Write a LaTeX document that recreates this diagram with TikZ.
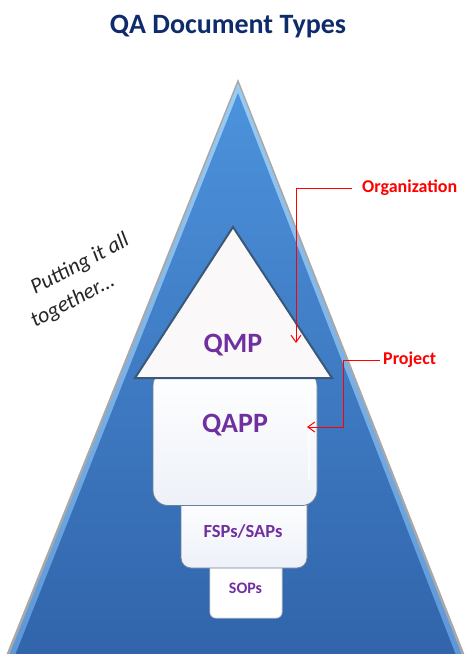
\documentclass[tikz,border=0pt]{standalone}
\usepackage{fontspec}
\setmainfont{Carlito}
\usetikzlibrary{arrows.meta}
\definecolor{titleblue}{HTML}{0E2B6B}
\definecolor{docpurple}{HTML}{7030A0}
\definecolor{callred}{HTML}{FF0000}
\definecolor{pyrtop}{HTML}{4C92DC}
\definecolor{pyrmid}{HTML}{3A75C2}
\definecolor{pyrbot}{HTML}{3164AA}
\definecolor{bevtop}{HTML}{9ACCF2}
\definecolor{bevbot}{HTML}{5C96D8}
\definecolor{rimgray}{HTML}{A8A8A8}
\definecolor{qmpedge}{HTML}{3A5878}
\definecolor{qmpfill}{HTML}{FAF8F8}
\definecolor{boxedge}{HTML}{6F7F96}
\definecolor{boxfill}{HTML}{EDF1F8}
\begin{document}
\begin{tikzpicture}[x=1pt,y=-1pt,
  doclabel/.style={text=docpurple,font=\bfseries,inner sep=0pt},
  docbox/.style={draw=boxedge,line width=0.8pt,rounded corners=14pt,
    top color=white,bottom color=boxfill,inner sep=0pt},
  calllabel/.style={text=callred,font=\fontsize{18}{20}\selectfont\bfseries,anchor=west},
  callout/.style={draw=callred,line width=1pt,
    -{Straight Barb[length=7pt,width=10pt,line width=1pt]}},
  aside/.style={text=black!85,font=\fontsize{22}{24}\selectfont\itshape,
    anchor=base west,rotate=28,inner sep=0pt}]
\useasboundingbox (0,0) rectangle (464,654);

% title
\node[text=titleblue,font=\fontsize{28}{32}\selectfont\bfseries,anchor=base]
  (title) at (228,33) {QA Document Types};

% large pyramid: grey rim, thin light bevel, blue body
\fill[rimgray] (238,79) -- (5,658) -- (466,658) -- cycle;
\shade[top color=bevtop,bottom color=bevbot] (238,83) -- (8,658) -- (463,658) -- cycle;
\shade[top color=pyrtop,middle color=pyrmid,bottom color=pyrbot]
  (238,93) -- (14,658) -- (457,658) -- cycle;

% stacked documents, drawn from the bottom up
\node[docbox,minimum width=72,minimum height=58,rounded corners=6pt,
  draw=black!15,top color=white,bottom color=white]
  (sopsbox) at (246,589) {};
\node[docbox,minimum width=126,minimum height=73,rounded corners=10pt]
  (fspsbox) at (244,531.5) {};
\node[docbox,minimum width=164,minimum height=135,rounded corners=15pt]
  (qappbox) at (235,438) {};
\draw[white,line width=2pt,opacity=0.7] (309,385) -- (309,480);

% QMP triangle
\filldraw[fill=qmpfill,draw=qmpedge,line width=2pt,line join=miter]
  (233,227) -- (135,378) -- (332,378) -- cycle;

% document labels
\node[doclabel,font=\fontsize{28}{30}\selectfont\bfseries,anchor=base] (qmp) at (233,352) {QMP};
\node[doclabel,font=\fontsize{28}{30}\selectfont\bfseries,anchor=base] (qapp) at (235,432) {QAPP};
\node[doclabel,font=\fontsize{18.5}{20}\selectfont\bfseries,anchor=base] (fsps) at (243,537) {FSPs/SAPs};
\node[doclabel,font=\fontsize{16}{18}\selectfont\bfseries,anchor=base] (sops) at (245.5,593) {SOPs};

% side note
\node[aside] (putting) at (35,295) {Putting it all};
\node[aside] (together) at (35,328) {together...};

% callouts
\node[calllabel,inner xsep=10pt,inner ysep=0pt] (org) at (352,188) {Organization};
\coordinate (orgtip) at (296,343);
\draw[callout] (org.west) -| (orgtip);

\node[calllabel,inner xsep=3pt,inner ysep=0pt] (proj) at (380,360) {Project};
\coordinate (projbend) at (343,427);
\coordinate (projtip) at (307,427);
\draw[callout] (proj.west) -| (projbend) -- (projtip);
\end{tikzpicture}
\end{document}
